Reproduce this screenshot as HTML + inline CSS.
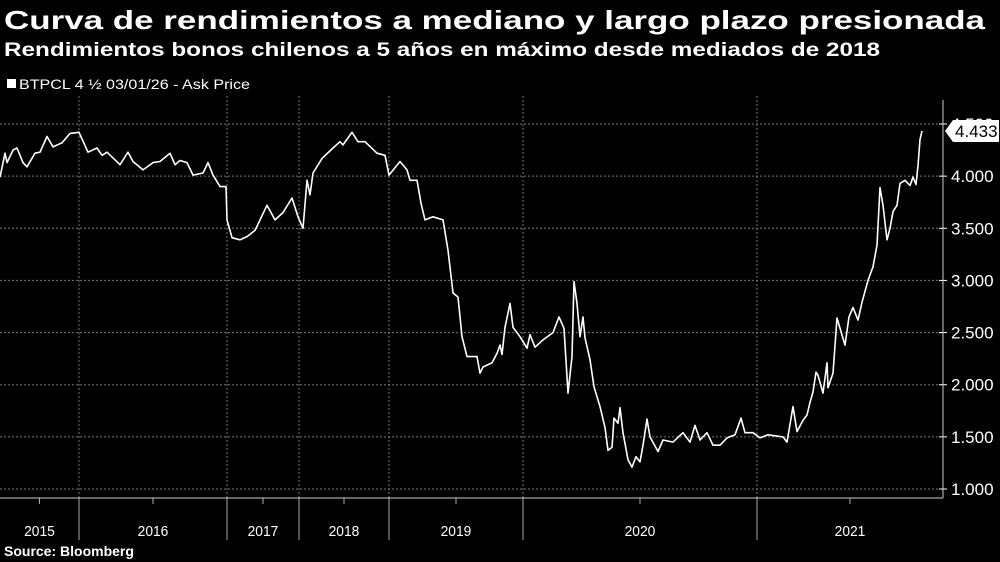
<!DOCTYPE html>
<html><head><meta charset="utf-8"><style>
html,body{margin:0;padding:0;background:#000;width:1000px;height:562px;overflow:hidden}
svg{display:block;font-family:"Liberation Sans",sans-serif}
</style></head><body>
<svg id="c" width="1000" height="562">
<text x="4" y="29" fill="#fff" font-size="26" font-weight="bold" textLength="981" lengthAdjust="spacingAndGlyphs">Curva de rendimientos a mediano y largo plazo presionada</text>
<text x="4" y="56" fill="#fff" font-size="19" font-weight="bold" textLength="876" lengthAdjust="spacingAndGlyphs">Rendimientos bonos chilenos a 5 años en máximo desde mediados de 2018</text>
<rect x="7" y="79" width="9" height="9" fill="#fff"/>
<text x="19" y="89" fill="#fff" font-size="14" textLength="231" lengthAdjust="spacingAndGlyphs">BTPCL 4 ½ 03/01/26 - Ask Price</text>
<g id="grid"></g><g id="axes"></g>
<path id="line" fill="none" stroke="#fff" stroke-width="1.6" stroke-linejoin="round"/>
<g id="last"></g>
<text x="4" y="556" fill="#fff" font-size="14" font-weight="bold">Source: Bloomberg</text>
</svg>
<script>
const yTicks=[1.0,1.5,2.0,2.5,3.0,3.5,4.0,4.5];
const yearLabels=["2015","2016","2017","2018","2019","2020","2021"];
const yearStarts=[0,79,227,299,389,523,757];
const days=[0,5,7,13,17,23,27,35,40,47,53,62,70,79,88,97,102,107,120,128,133,143,153,160,170,175,180,187,193,203,208,213,220,226,227,232,240,247,255,267,275,283,292,298,303,307,310,313,322,333,340,343,352,358,365,377,385,389,400,407,410,417,421,425,433,443,448,453,458,462,467,477,480,483,492,497,500,502,505,510,513,520,527,530,535,543,553,559,564,568,572,574,577,580,583,585,590,594,600,605,608,612,614,618,620,623,628,632,636,640,643,647,650,658,663,673,683,690,695,700,707,713,720,727,735,741,745,753,760,768,783,787,793,797,803,807,810,813,816,818,823,827,828,833,837,845,849,853,858,862,868,873,877,880,883,887,890,893,897,900,905,910,913,916,918,920,922];
const yields=[3.99,4.22,4.13,4.25,4.27,4.13,4.09,4.22,4.23,4.38,4.28,4.32,4.41,4.42,4.23,4.27,4.20,4.23,4.11,4.23,4.14,4.06,4.13,4.14,4.22,4.11,4.15,4.13,4.01,4.03,4.13,4.01,3.90,3.90,3.58,3.41,3.39,3.42,3.48,3.72,3.58,3.65,3.79,3.61,3.50,3.96,3.82,4.03,4.17,4.27,4.33,4.30,4.42,4.33,4.33,4.22,4.20,4.01,4.14,4.06,3.96,3.96,3.74,3.58,3.61,3.58,3.29,2.88,2.84,2.46,2.27,2.27,2.11,2.17,2.21,2.30,2.38,2.29,2.55,2.78,2.55,2.46,2.35,2.48,2.36,2.43,2.50,2.65,2.54,1.92,2.27,2.99,2.78,2.46,2.65,2.45,2.24,1.98,1.79,1.59,1.37,1.40,1.68,1.63,1.78,1.54,1.28,1.21,1.31,1.26,1.42,1.67,1.50,1.36,1.47,1.45,1.54,1.45,1.61,1.47,1.54,1.42,1.42,1.49,1.52,1.68,1.54,1.54,1.49,1.52,1.50,1.45,1.79,1.55,1.66,1.71,1.83,1.93,2.12,2.09,1.92,2.21,1.97,2.11,2.64,2.38,2.65,2.74,2.62,2.79,3.00,3.13,3.34,3.89,3.72,3.39,3.50,3.66,3.72,3.93,3.96,3.91,3.99,3.92,4.10,4.35,4.433];
const lastLabel="4.433";
const NS="http://www.w3.org/2000/svg";
const X0=0,X1=943,Y0=498,Y1=96;
const xs=d=>X0+(d/943)*(X1-X0);
const ys=v=>489-(v-1)*(489-124)/3.5;
function mk(tag,at,par){const e=document.createElementNS(NS,tag);for(const k in at)e.setAttribute(k,at[k]);document.getElementById(par).appendChild(e);return e;}
yTicks.forEach(t=>{
 const y=ys(t);
 const g=mk('line',{x1:0,x2:X1,y1:y,y2:y,stroke:'#777','stroke-width':1,'stroke-dasharray':'2,2'},'grid');
 
 
 const tk=mk('line',{x1:X1-4,x2:X1+4,y1:y,y2:y,stroke:'#fff'},'axes');
 
 
 const tx=mk('text',{x:X1+8,y:y+6,fill:'#fff','font-size':17},'axes');
 tx.textContent=t.toFixed(3);
 
 
});
const ends=yearStarts.slice(1).concat([943]);
yearStarts.forEach((s,i)=>{
 if(i>0){
  const g=mk('line',{x1:xs(s),x2:xs(s),y1:Y1,y2:Y0,stroke:'#777','stroke-dasharray':'2,2'},'grid');
  
  
  const sp=mk('line',{x1:xs(s),x2:xs(s),y1:Y0,y2:540,stroke:'#aaa'},'axes');
  
  
 }
 const mid=(xs(s)+xs(ends[i]))/2;
 const mt=mk('line',{x1:mid,x2:mid,y1:Y0,y2:Y0+6,stroke:'#aaa'},'axes');
 
 
 const tx=mk('text',{x:mid,y:536,fill:'#fff','font-size':15,'text-anchor':'middle',transform:`translate(${mid*0.08},0) scale(0.92,1)`},'axes');
 tx.textContent=yearLabels[i];
 
 
});
const ax=mk('line',{x1:0,x2:X1,y1:Y0,y2:Y0,stroke:'#ccc'},'axes');


const ay=mk('line',{x1:X1,x2:X1,y1:Y1+4,y2:Y0,stroke:'#ccc'},'axes');


document.getElementById('line').setAttribute('d',days.map((d,i)=>(i?'L':'M')+xs(d).toFixed(1)+','+ys(yields[i]).toFixed(1)).join(''));
const ly=ys(yields[yields.length-1]);
const bx=mk('path',{d:`M${X1+2},${ly} L${X1+10},${ly-11} L${X1+56},${ly-11} L${X1+56},${ly+11} L${X1+10},${ly+11} Z`,fill:'#fff'},'last');


const lt=mk('text',{x:X1+12,y:ly+6,fill:'#000','font-size':17},'last');
lt.textContent=lastLabel;


</script>
</body></html>
